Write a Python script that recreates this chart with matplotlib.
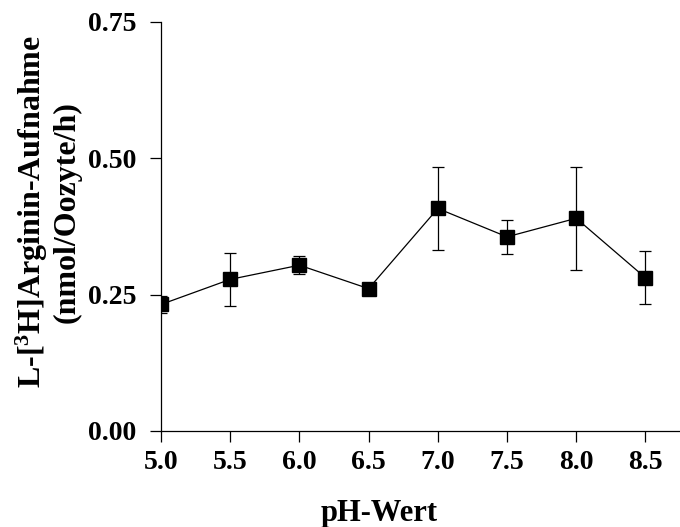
import matplotlib
matplotlib.use("Agg")
import matplotlib.pyplot as plt

plt.rcParams['font.family'] = ['Liberation Serif', 'DejaVu Serif']
plt.rcParams['font.weight'] = 'bold'
plt.rcParams['mathtext.fontset'] = 'custom'
plt.rcParams['mathtext.rm'] = 'Liberation Serif:bold'
plt.rcParams['mathtext.bf'] = 'Liberation Serif:bold'
plt.rcParams['mathtext.default'] = 'bf'

ph = [5.0, 5.5, 6.0, 6.5, 7.0, 7.5, 8.0, 8.5]
uptake = [0.232, 0.278, 0.304, 0.261, 0.408, 0.356, 0.390, 0.281]
sem = [0.016, 0.048, 0.016, 0.0, 0.076, 0.031, 0.094, 0.049]
xticks = [5.0, 5.5, 6.0, 6.5, 7.0, 7.5, 8.0, 8.5]
yticks = [0.0, 0.25, 0.5, 0.75]

fig = plt.figure(figsize=(6.8, 5.27), dpi=100)
ax = fig.add_axes([0.2368, 0.1822, 0.7632, 0.7761])

ax.errorbar(ph, uptake, yerr=sem, color='black', lw=0.9, elinewidth=0.9,
            capsize=4, capthick=0.9, marker='s', markersize=9.5,
            markerfacecolor='black', markeredgecolor='black', zorder=3)

ax.set_xlim(5.0, 8.75)
ax.set_ylim(0, 0.75)
ax.set_xticks(xticks)
ax.set_xticklabels([f"{v:.1f}" for v in xticks])
ax.set_yticks(yticks)
ax.set_yticklabels([f"{v:.2f}" for v in yticks])

for s in ['top', 'right']:
    ax.spines[s].set_visible(False)
for s in ['left', 'bottom']:
    ax.spines[s].set_linewidth(0.9)

ax.tick_params(axis='both', direction='out', length=8, width=0.9, labelsize=20)
ax.tick_params(axis='x', pad=6)
ax.tick_params(axis='y', pad=10)
for lab in ax.get_xticklabels() + ax.get_yticklabels():
    lab.set_fontweight('bold')

fig.text(379 / 680, 1 - 521 / 527, "pH-Wert", ha='center', va='baseline',
         fontsize=22, fontweight='bold')
fig.text(48 / 680, 1 - 212 / 527, "L-[$^{3}$H]Arginin-Aufnahme\n(nmol/Oozyte/h)",
         ha='center', va='center', rotation=90, multialignment='center',
         fontsize=23, fontweight='bold', linespacing=1.1)

fig.savefig("out.png", dpi=100)
